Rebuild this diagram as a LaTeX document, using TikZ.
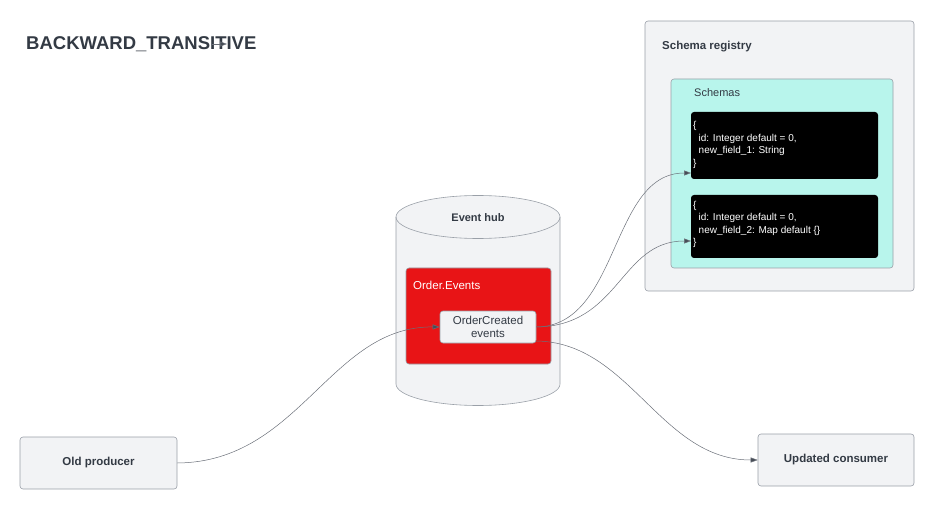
\documentclass[tikz,border=0pt]{standalone}
\usepackage{fontspec}
\setmainfont{Liberation Sans}
\usetikzlibrary{arrows.meta}
\definecolor{txt}{HTML}{333A44}
\definecolor{boxfill}{HTML}{F2F3F5}
\definecolor{boxline}{HTML}{9AA0A8}
\definecolor{aqua}{HTML}{B8F5EC}
\definecolor{redfill}{HTML}{E81416}
\definecolor{connc}{HTML}{6B7079}
\definecolor{tipc}{HTML}{474D57}
\tikzset{
  box/.style={draw=boxline, fill=boxfill, rounded corners=3pt, line width=0.6pt, inner sep=0pt},
  lbl/.style={font=\fontsize{11.5}{13.5}\selectfont\bfseries, text=txt, inner sep=0pt},
  plainlbl/.style={font=\fontsize{11.5}{13.5}\selectfont, inner sep=0pt},
  codebox/.style={fill=black, rounded corners=3pt, inner sep=0pt},
  codetxt/.style={text=white, font=\fontsize{10}{12.5}\selectfont, align=left, anchor=west, inner sep=0pt},
  connector/.style={draw=connc, line width=0.5pt, -{Triangle[length=7pt,width=5pt,fill=tipc]}},
}
\begin{document}
\begin{tikzpicture}[x=1pt,y=-1pt]
\useasboundingbox (0,0) rectangle (936,510);

% title
\node[anchor=base west, font=\fontsize{18.5}{20}\selectfont\bfseries, text=txt, inner sep=0pt] (title) at (26,49.5) {BACKWARD\_TRANSITIVE};
\coordinate (ta) at (212,44);
\coordinate (tb) at (227,44);
\draw[connector] (ta) -- (tb);

% schema registry
\node[box, minimum width=269pt, minimum height=270pt] (reg) at (779.5,156) {};
\node[lbl, anchor=base west] (regl) at (662,50) {Schema registry};
\node[draw=boxline, fill=aqua, rounded corners=3pt, line width=0.6pt, minimum width=222pt, minimum height=189pt] (schemas) at (782,173.5) {};
\node[plainlbl, text=txt, anchor=base west, font=\fontsize{11}{13}\selectfont] (schemasl) at (694,97) {Schemas};
\node[codebox, minimum width=187pt, minimum height=67pt] (code1) at (784.5,145.5) {};
\node[codetxt] (code1t) at (693,145) {\{\\\hspace*{5.5pt}id: Integer default = 0,\\\hspace*{5.5pt}new\_field\_1: String\\\}};
\node[codebox, minimum width=187pt, minimum height=63pt] (code2) at (784.5,226.5) {};
\node[codetxt] (code2t) at (693,224.5) {\{\\\hspace*{5.5pt}id: Integer default = 0,\\\hspace*{5.5pt}new\_field\_2: Map default \{\}\\\}};
\coordinate (in1) at (691,173);
\coordinate (in2) at (691,241);

% event hub cylinder
\filldraw[draw=boxline, fill=boxfill, line width=0.6pt]
  (396,217) -- (396,384) arc[start angle=180, end angle=360, x radius=82pt, y radius=21.5pt]
  -- (560,217) arc[start angle=0, end angle=180, x radius=82pt, y radius=21.5pt] -- cycle;
\draw[draw=boxline, line width=0.6pt] (396,217) arc[start angle=180, end angle=360, x radius=82pt, y radius=21.5pt];
\node[lbl, font=\fontsize{11}{13}\selectfont\bfseries] (hub) at (478,218) {Event hub};

\node[draw=boxline, fill=redfill, rounded corners=3pt, line width=0.6pt, minimum width=145pt, minimum height=96pt] (orders) at (478.5,316) {};
\node[plainlbl, text=white, anchor=base west] (ordersl) at (413,290) {Order.Events};
\node[box, minimum width=96pt, minimum height=32pt, align=center, font=\fontsize{11.5}{13.5}\selectfont, text=txt] (oc) at (488,327) {OrderCreated\\events};
\coordinate (ocout) at (536,341);

% producer / consumer
\node[box, minimum width=157pt, minimum height=52pt, lbl] (old) at (98.5,463) {Old producer};
\node[box, minimum width=156pt, minimum height=52pt, lbl] (cons) at (836,460) {Updated consumer};

% connectors
\draw[connector] (old.east) .. controls (300,462) and (330,326) .. (oc.west);
\draw[connector] (oc.east) .. controls (620,326) and (610,173) .. (in1);
\draw[connector] (oc.east) .. controls (620,326) and (620,241) .. (in2);
\draw[connector] (ocout) .. controls (630,342) and (660,460) .. (cons.west);
\end{tikzpicture}
\end{document}
